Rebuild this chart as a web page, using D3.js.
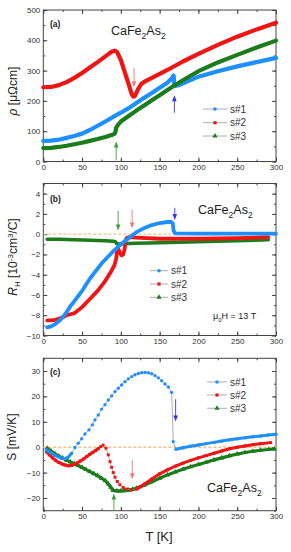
<!DOCTYPE html>
<html><head><meta charset="utf-8">
<script src="https://cdn.jsdelivr.net/npm/d3@7"></script>
<style>body{margin:0;background:#fff}svg{display:block}text{font-family:"Liberation Sans",Arial,sans-serif}</style>
</head><body>
<svg id="c" width="291" height="552"></svg>
<script>
// ---------- DATA ----------
const seriesNames = ["s#1","s#2","s#3"];
const xTicks = [0,50,100,150,200,250,300];
const rhoTicks = [0,100,200,300,400,500];
const rhTicks = [-10,-8,-6,-4,-2,0,2,4];
const sTicks = [-20,-10,0,10,20,30];

// (a) resistivity [µΩcm]
const a_s1_T = [0,10,20,30,40,50,60,70,80,90,100,110,120,130,140,150,160,166,168,169,175,200,225,250,275,300];
const a_s1_v = [68,69,72,78,84,92,104,118,132,147,161,176,193,210,226,243,260,276,284,249,252,280,298,314,328,342];
const a_s2_T = [0,10,20,30,40,50,60,70,80,88,92,95,100,105,110,114,116,118,122,126,130,140,150,160,170,180,200,225,250,275,300];
const a_s2_v = [245,246,252,262,276,292,310,328,347,362,366,362,335,295,255,222,214,216,238,255,263,276,289,302,316,330,355,385,412,436,458];
const a_s3_T = [0,10,20,30,40,50,60,70,80,90,92,93,94,96,100,110,120,130,140,150,160,168,180,200,225,250,275,300];
const a_s3_v = [44,45,48,52,57,62,68,74,81,89,92,98,112,120,132,150,168,185,202,219,236,249,268,298,327,352,376,399];

// (b) Hall coefficient [1e-3 cm^3/C]
const b_s1_T = [5,10,15,20,25,30,35,40,45,50,55,60,65,70,75,80,85,90,95,100,105,110,115,120,130,140,150,160,165,167,168,170,200,250,300];
const b_s1_v = [-9.2,-9.1,-8.9,-8.6,-8.2,-7.7,-7.1,-6.6,-6.1,-5.6,-5.0,-4.4,-3.9,-3.4,-2.9,-2.5,-2.1,-1.7,-1.35,-1.0,-0.7,-0.4,-0.1,0.2,0.6,0.9,1.1,1.2,1.2,1.05,0.3,0.08,0.05,0.05,0.05];
const b_s2_T = [5,10,15,20,25,30,35,40,50,60,70,80,88,92,94,95,97,99,101,103,105,106,108,110,120,150,200,250,290];
const b_s2_v = [-8.5,-8.5,-8.45,-8.35,-8.2,-8.0,-7.9,-7.8,-7.2,-6.4,-5.6,-4.6,-3.6,-3.0,-2.4,-1.7,-1.5,-1.9,-2.1,-2.0,-1.4,-0.6,-0.35,-0.3,-0.35,-0.45,-0.45,-0.4,-0.3];
const b_s3_T = [5,20,40,60,80,90,93,95,97,100,120,150,200,250,290];
const b_s3_v = [-0.5,-0.5,-0.55,-0.6,-0.65,-0.7,-0.75,-0.95,-1.0,-0.95,-0.9,-0.85,-0.75,-0.65,-0.55];

// (c) thermopower [mV/K]
const c_s1_T = [4,6.4,10.7,15,19.3,23.6,27.9,32.2,36.5,40.8,45.1,49.4,53.7,58.9,63.2,66.6,70.9,75.2,79.5,83.8,88.1,92.4,96.7,101,105.3,109.6,113.9,118.2,122.5,126.8,131.1,135.4,139.7,144,148.3,152.6,156.9,161.2,165.5,167.5,171,180,190,200,210,220,230,240,250,260,270,280,290,300];
const c_s1_v = [-1.0,-1.6,-2.4,-3.2,-3.8,-4.3,-4.5,-3.9,-2.4,-0.1,1.6,3.3,5.2,6.8,8.8,10.7,12.7,15.0,16.7,18.6,20.2,21.9,23.2,24.5,25.8,26.9,27.8,28.5,29.0,29.3,29.4,29.3,28.9,28.2,27.3,26.2,24.9,23.7,21.6,2.2,-0.8,-0.2,0.4,0.9,1.4,1.9,2.4,2.9,3.3,3.7,4.1,4.4,4.8,5.1];
const c_s2_T = [4,8,12,16,20,24,28,32,36,40,44,48,52,56,60,64,68,71,74,77,80.8,83.8,86,88.1,90.2,92.4,95.4,98.8,103.1,107.5,113.9,120.4,125,130,140,150,160,170,180,190,200,210,220,230,240,250,260,270,280,293];
const c_s2_v = [-1.8,-3.0,-4.2,-5.2,-6.0,-6.6,-7.0,-7.3,-7.2,-6.8,-6.1,-5.4,-4.6,-3.7,-2.8,-2.0,-1.2,-0.5,0.2,0.8,-0.4,-3.0,-5.7,-7.9,-10.0,-11.8,-13.5,-14.8,-15.9,-16.5,-16.8,-16.5,-15.6,-14.6,-12.5,-10.5,-8.9,-7.5,-6.3,-5.2,-4.2,-3.3,-2.4,-1.5,-0.6,0.0,0.5,1.0,1.4,1.8];
const c_s3_T = [5,10,15,20,25,30,35,40,45,50,55,60,65,70,75,80,84,87,90,95,100,105,110,115,120,130,140,150,160,170,180,190,200,210,220,230,240,250,260,270,280,290,298];
const c_s3_v = [-0.4,-1.5,-2.6,-3.5,-4.3,-5.1,-5.8,-6.5,-7.2,-8.0,-8.8,-9.6,-10.4,-11.2,-12.2,-13.2,-14.5,-15.8,-17.0,-17.2,-17.2,-17.1,-16.9,-16.6,-16.2,-15.0,-13.6,-12.2,-10.9,-9.8,-8.7,-7.7,-6.8,-5.9,-5.0,-4.2,-3.4,-2.7,-2.1,-1.6,-1.2,-0.9,-0.7];

// arrows: [T, tail value, tip value, series index]
const a_arrows = [[117,308,245,1],[94,4,66,2],[169,161,219,0]];
const b_arrows = [[96.5,2.3,0.35,2],[114.5,2.4,0.55,1],[169.5,2.6,1.4,0]];
const c_arrows = [[170.6,18.9,10.1,0],[114.7,-5,-12.6,1],[91,-24.8,-18.2,2]];

// ---------- RENDER ----------
const colors = ["#1e8fff","#f01414","#1c7c1c"];
const arrowColors = ["#3434e6","#f07878","#3e9e3e"];
const symbols = [d3.symbolCircle, d3.symbolSquare, d3.symbolTriangle];
const svg = d3.select("#c");
const x = d3.scaleLinear().domain([0,300]).range([43.3,276]);
const zip = (T,v) => T.map((t,i)=>[t,v[i]]);

function panel(yDomain, yRange, yTicksArr, yMinorStep){
  const y = d3.scaleLinear().domain(yDomain).range(yRange);
  const g = svg.append("g");
  const [top,bottom] = [yRange[1], yRange[0]];
  const xMinor = d3.range(0,301,25);
  const yMinor = d3.range(yDomain[0], yDomain[1]+1e-9, yMinorStep);
  const style = sel => { sel.select(".domain").remove(); sel.selectAll("line").attr("stroke","#444"); sel.selectAll("text").attr("fill","#333").style("font-size","8px"); };
  g.append("g").attr("transform",`translate(0,${bottom})`).call(d3.axisBottom(x).tickValues(xTicks).tickSize(-4).tickPadding(3)).call(style);
  g.append("g").attr("transform",`translate(0,${bottom})`).call(d3.axisBottom(x).tickValues(xMinor).tickSize(-2).tickFormat("")).call(style);
  g.append("g").attr("transform",`translate(0,${top})`).call(d3.axisTop(x).tickValues(xTicks).tickSize(-4).tickFormat("")).call(style);
  g.append("g").attr("transform",`translate(0,${top})`).call(d3.axisTop(x).tickValues(xMinor).tickSize(-2).tickFormat("")).call(style);
  g.append("g").attr("transform",`translate(${x(0)},0)`).call(d3.axisLeft(y).tickValues(yTicksArr).tickSize(-4).tickPadding(3)).call(style);
  g.append("g").attr("transform",`translate(${x(0)},0)`).call(d3.axisLeft(y).tickValues(yMinor).tickSize(-2).tickFormat("")).call(style);
  g.append("g").attr("transform",`translate(${x(300)},0)`).call(d3.axisRight(y).tickValues(yTicksArr).tickSize(-4).tickFormat("")).call(style);
  g.append("g").attr("transform",`translate(${x(300)},0)`).call(d3.axisRight(y).tickValues(yMinor).tickSize(-2).tickFormat("")).call(style);
  g.append("rect").attr("x",x(0)).attr("y",top).attr("width",x(300)-x(0)).attr("height",bottom-top).attr("fill","none").attr("stroke","#444").attr("stroke-width",1);
  return {y,g};
}

function zeroLine(p){
  p.g.append("line").attr("x1",x(0)).attr("x2",x(300)).attr("y1",p.y(0)).attr("y2",p.y(0))
    .attr("stroke","#f5c08a").attr("stroke-width",1.4).attr("stroke-dasharray","3,2");
}
function thickLine(p,data,ci,w){
  const line = d3.line().x(d=>x(d[0])).y(d=>p.y(d[1]));
  p.g.append("path").attr("d",line(data)).attr("fill","none").attr("stroke",colors[ci]).attr("stroke-width",w).attr("stroke-linejoin","round").attr("stroke-linecap","round");
}
function arrows(p,arr){
  arr.forEach(([T,v0,v1,ci])=>{
    const X=x(T), Y0=p.y(v0), Y1=p.y(v1), dir = Y1>Y0?1:-1;
    p.g.append("line").attr("x1",X).attr("x2",X).attr("y1",Y0).attr("y2",Y1-dir*4).attr("stroke",arrowColors[ci]).attr("stroke-width",0.9);
    p.g.append("path").attr("d",`M${X},${Y1} L${X-2.3},${Y1-dir*6} L${X+2.3},${Y1-dir*6} Z`).attr("fill",arrowColors[ci]);
  });
}
function legend(p,xl,rows,len){
  seriesNames.forEach((n,i)=>{
    const yy=rows[i];
    p.g.append("line").attr("x1",xl).attr("x2",xl+len).attr("y1",yy).attr("y2",yy).attr("stroke","#999").attr("stroke-width",0.8);
    p.g.append("path").attr("d",d3.symbol().type(symbols[i]).size(i==2?12:10)()).attr("transform",`translate(${xl+len/2},${yy})`).attr("fill",colors[i]);
    p.g.append("text").attr("x",xl+len+3).attr("y",yy).attr("dy","0.35em").style("font-size","10px").attr("fill","#333").text(n);
  });
}
function formula(g,X,Y,size){
  const t=g.append("text").attr("x",X).attr("y",Y).style("font-size",size+"px").attr("fill","#222");
  const sub=size*0.68, dd=size*0.28;
  t.append("tspan").text("CaFe");
  t.append("tspan").attr("dy",dd).style("font-size",sub+"px").text("2");
  t.append("tspan").attr("dy",-dd).text("As");
  t.append("tspan").attr("dy",dd).style("font-size",sub+"px").text("2");
}
function label(g,X,Y,txt){
  g.append("text").attr("x",X).attr("y",Y).style("font-size","8.5px").style("font-weight","bold").attr("fill","#222").text(txt);
}

// Panel (a)
const pa = panel([0,500],[161.5,10],rhoTicks,50);
thickLine(pa,zip(a_s1_T,a_s1_v),0,4.2);
thickLine(pa,zip(a_s3_T,a_s3_v),2,4.2);
thickLine(pa,zip(a_s2_T,a_s2_v),1,4.2);
arrows(pa,a_arrows);
legend(pa,203,[109,122.7,136],24);
formula(pa.g,111,35,12.5);
label(pa.g,50,27,"(a)");
{
  const t=svg.append("text").attr("transform","translate(17,91) rotate(-90)").attr("text-anchor","middle").style("font-size","12px").attr("fill","#222");
  t.append("tspan").style("font-style","italic").text("ρ");
  t.append("tspan").text(" [μΩcm]");
}

// Panel (b)
const pb = panel([-10,5],[335.5,183.5],rhTicks,1);
zeroLine(pb);
thickLine(pb,zip(b_s3_T,b_s3_v),2,3.6);
thickLine(pb,zip(b_s2_T,b_s2_v),1,3.8);
thickLine(pb,zip(b_s1_T,b_s1_v),0,3.8);
arrows(pb,b_arrows);
legend(pb,150,[270.7,284,297.3],18);
formula(pb.g,198,214,12.5);
label(pb.g,50,201.5,"(b)");
{
  const t=pb.g.append("text").attr("x",213).attr("y",319).style("font-size",  "9px").attr("fill","#222");
  t.append("tspan").text("μ");
  t.append("tspan").attr("dy",2.5).style("font-size","6px").text("0");
  t.append("tspan").attr("dy",-2.5).text("H = 13 T");
}
{
  const t=svg.append("text").attr("transform","translate(17,257) rotate(-90)").attr("text-anchor","middle").style("font-size","12px").attr("fill","#222");
  t.append("tspan").style("font-style","italic").text("R");
  t.append("tspan").attr("dy",3).style("font-size","8px").text("H");
  t.append("tspan").attr("dy",-3).text(" [10");
  t.append("tspan").attr("dy",-4.5).style("font-size","8px").text("-3");
  t.append("tspan").attr("dy",4.5).text("cm");
  t.append("tspan").attr("dy",-4.5).style("font-size","8px").text("3");
  t.append("tspan").attr("dy",4.5).text("/C]");
}

// Panel (c)
const pc = panel([-25,35],[510.7,358.3],sTicks,5);
zeroLine(pc);
const cData = [zip(c_s1_T,c_s1_v), zip(c_s2_T,c_s2_v), zip(c_s3_T,c_s3_v)];
const denseRanges = [[[0,38],[171,300]], [[0,72],[118,300]], [[0,300]]];
const lineC = d3.line().x(d=>x(d[0])).y(d=>pc.y(d[1]));
[2,1,0].forEach(i=>{
  pc.g.append("path").attr("d",lineC(cData[i])).attr("fill","none").attr("stroke","#888").attr("stroke-width",0.7);
  denseRanges[i].forEach(([a,b])=>{
    const seg = cData[i].filter(d=>d[0]>=a && d[0]<=b);
    pc.g.append("path").attr("d",lineC(seg)).attr("fill","none").attr("stroke",colors[i]).attr("stroke-width",i==2?3.2:3).attr("stroke-linejoin","round");
  });
  pc.g.selectAll(null).data(cData[i]).enter().append("path")
    .attr("d",d3.symbol().type(symbols[i]).size(i==2?12:9)())
    .attr("transform",d=>`translate(${x(d[0])},${pc.y(d[1])})`).attr("fill",colors[i]);
});
arrows(pc,c_arrows);
legend(pc,207,[382,395,408.3],20);
formula(pc.g,207,492,12.5);
label(pc.g,50,375,"(c)");
svg.append("text").attr("transform","translate(16,437) rotate(-90)").attr("text-anchor","middle").style("font-size","12px").attr("fill","#222").text("S [mV/K]");
svg.append("text").attr("x",159).attr("y",541).attr("text-anchor","middle").style("font-size","13px").attr("fill","#222").text("T [K]");
</script>
</body></html>
